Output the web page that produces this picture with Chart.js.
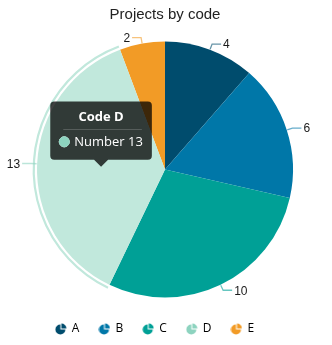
<!DOCTYPE html>
<html>
<head>
<meta charset="utf-8">
<script src="https://cdn.jsdelivr.net/npm/chart.js@4/dist/chart.umd.min.js"></script>
<style>
  html, body { margin: 0; padding: 0; background: #fff; }
  #wrap { width: 332px; height: 345px; }
</style>
</head>
<body>
<div id="wrap"><canvas id="pie"></canvas></div>
<script>
'use strict';

// data
const codes   = ['A', 'B', 'C', 'D', 'E'];
const counts  = [4, 6, 10, 13, 2];
const colours = ['#004c6d', '#0077a8', '#00a096', '#8dd3bf', '#f29b26'];
const hovers  = ['#336f8a', '#3392b9', '#33b3ab', '#c1e8dc', '#f5af51'];
const hovered = 3;

// little pie glyph for the legend
const pieIcon = (col) => {
    const c = document.createElement('canvas');
    c.width = 12; c.height = 12;
    const g = c.getContext('2d');
    g.fillStyle = col;
    g.beginPath();
    g.moveTo(5.5, 6.5);
    g.arc(5.5, 6.5, 5, 0, 1.5 * Math.PI);
    g.closePath();
    g.fill();
    g.beginPath();
    g.moveTo(6.5, 5.5);
    g.arc(6.5, 5.5, 5, 1.5 * Math.PI, 2 * Math.PI);
    g.closePath();
    g.fill();
    return c;
};
const icons = colours.map(pieIcon);

const alpha = (hex, a) => {
    const n = parseInt(hex.slice(1), 16);
    return `rgba(${n >> 16},${(n >> 8) & 255},${n & 255},${a})`;
};

// ring round the hovered slice + outside labels with leader lines
const outerLabels = {
    id: 'outerLabels',
    afterLayout(chart) {
        // legend sits a little left of centre in the original
        chart.legend.left -= 10;
        chart.legend.right -= 10;
    },
    afterDatasetsDraw(chart) {
        const ctx = chart.ctx;
        const meta = chart.getDatasetMeta(0);
        const active = chart.getActiveElements().map(a => a.index);
        ctx.save();
        meta.data.forEach((arc, i) => {
            const p = arc.getProps(['x', 'y', 'startAngle', 'endAngle', 'outerRadius'], true);
            if (active.includes(i)) {
                ctx.beginPath();
                ctx.arc(p.x, p.y, p.outerRadius + 3.3, p.startAngle, p.endAngle);
                ctx.lineWidth = 2.2;
                ctx.strokeStyle = hovers[i];
                ctx.stroke();
            }
            const mid = (p.startAngle + p.endAngle) / 2;
            const cos = Math.cos(mid), sin = Math.sin(mid);
            const right = cos >= 0;
            const x0 = p.x + cos * (p.outerRadius + 0.5), y0 = p.y + sin * (p.outerRadius + 0.5);
            const x1 = p.x + cos * (p.outerRadius + 6), y1 = p.y + sin * (p.outerRadius + 6);
            const x2 = x1 + (right ? 9 : -9);
            ctx.beginPath();
            ctx.moveTo(x0, y0);
            ctx.lineTo(x1, y1);
            ctx.lineTo(x2, y1);
            ctx.lineWidth = 1.3;
            ctx.strokeStyle = alpha(colours[i], 0.6);
            ctx.stroke();
            ctx.fillStyle = '#1a1a1a';
            ctx.font = "12px 'Liberation Sans', Arial, sans-serif";
            ctx.textBaseline = 'middle';
            ctx.textAlign = right ? 'left' : 'right';
            ctx.fillText(String(counts[i]), x2 + (right ? 2 : -2), y1 + 1);
        });
        ctx.restore();
    },
    afterTooltipDraw(chart, args) {
        const tt = args.tooltip;
        if (!tt.opacity) return;
        const ctx = chart.ctx;
        const y = Math.round(tt.y + 8 + 15.6 + 4) + 0.5;
        ctx.save();
        ctx.beginPath();
        ctx.moveTo(tt.x + 13, y);
        ctx.lineTo(tt.x + tt.width - 10, y);
        ctx.lineWidth = 1;
        ctx.strokeStyle = 'rgba(255,255,255,0.18)';
        ctx.stroke();
        ctx.restore();
    }
};

const chart = new Chart(document.getElementById('pie'), {
    type: 'pie',
    data: {
        labels: codes,
        datasets: [{
            label: 'Number',
            data: counts,
            backgroundColor: colours,
            hoverBackgroundColor: hovers,
            borderWidth: 0,
            hoverBorderWidth: 0,
            hoverOffset: 0
        }]
    },
    options: {
        responsive: true,
        maintainAspectRatio: false,
        animation: false,
        events: [],
        layout: { padding: { left: 37, right: 39, top: 0, bottom: 0 } },
        plugins: {
            title: {
                display: true,
                text: 'Projects by code',
                color: '#222',
                font: { family: "'Liberation Sans', Arial, sans-serif", size: 15, weight: 'normal' },
                padding: { top: 6, bottom: 12 }
            },
            legend: {
                position: 'bottom',
                labels: {
                    usePointStyle: true,
                    pointStyleWidth: 10,
                    color: '#333',
                    padding: 20,
                    font: { family: "'Open Sans', sans-serif", size: 12 },
                    generateLabels: () => codes.map((c, i) => ({
                        text: c,
                        fillStyle: colours[i],
                        strokeStyle: colours[i],
                        lineWidth: 0,
                        pointStyle: icons[i],
                        hidden: false,
                        index: i
                    }))
                }
            },
            tooltip: {
                enabled: true,
                yAlign: 'bottom',
                xAlign: 'center',
                backgroundColor: 'rgba(0,0,0,0.75)',
                titleColor: '#fff',
                bodyColor: '#fff',
                titleFont: { family: "'Open Sans', sans-serif", size: 13, weight: 'bold' },
                bodyFont: { family: "'Open Sans', sans-serif", size: 13 },
                titleAlign: 'center',
                titleMarginBottom: 9,
                padding: { top: 8, bottom: 10, left: 9, right: 9 },
                caretSize: 7,
                caretPadding: 0,
                cornerRadius: 4,
                usePointStyle: true,
                boxWidth: 10,
                boxHeight: 10,
                boxPadding: 3,
                callbacks: {
                    title: (items) => 'Code ' + items[0].label,
                    label: (item) => 'Number ' + item.raw,
                    labelColor: (item) => ({ borderColor: colours[item.dataIndex], backgroundColor: colours[item.dataIndex], borderWidth: 0 }),
                    labelPointStyle: () => ({ pointStyle: 'circle', rotation: 0 })
                }
            }
        }
    },
    plugins: [outerLabels]
});

const act = [{ datasetIndex: 0, index: hovered }];
chart.setActiveElements(act);
const pos = chart.getDatasetMeta(0).data[hovered].tooltipPosition();
pos.y -= 2;
chart.tooltip.setActiveElements(act, pos);
chart.update();
</script>
</body>
</html>
